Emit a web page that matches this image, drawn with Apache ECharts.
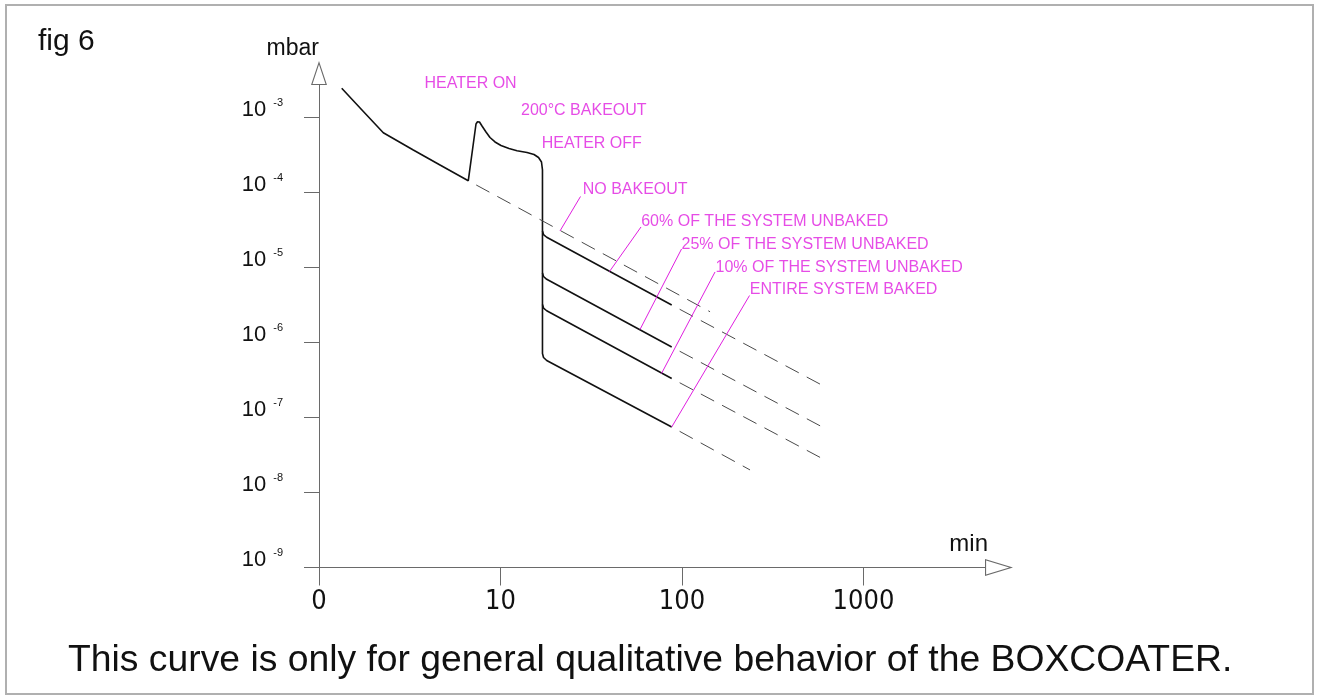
<!DOCTYPE html>
<html>
<head>
<meta charset="utf-8">
<script src="https://cdn.jsdelivr.net/npm/echarts@6/dist/echarts.min.js"></script>
<style>
html,body{margin:0;padding:0;background:#fff;}
#wrap{position:relative;width:1318px;height:695px;}
#chart{width:1318px;height:695px;}
#frame{position:absolute;left:5px;top:4px;width:1309px;height:691px;border:2px solid #b0b0b0;box-sizing:border-box;pointer-events:none;}
</style>
</head>
<body>
<div id="wrap"><div id="chart"></div><div id="frame"></div></div>
<script>
// ---------- axes ----------
const xTickValues = [1, 10, 100, 1000];
const xTickLabels = ['0', '10', '100', '1000'];
const yTickValues = [1e-9, 1e-8, 1e-7, 1e-6, 1e-5, 1e-4, 1e-3];
const yTickExponents = ['-9', '-8', '-7', '-6', '-5', '-4', '-3'];

// ---------- main pump-down / bakeout curve (ends on "entire system baked") ----------
const mainTime = [1.334, 1.740, 2.261, 3.308, 4.642, 6.646, 7.328, 7.468, 7.660, 7.909, 8.320, 8.752, 9.326, 10.06, 11.14, 12.33, 14.00, 15.30, 16.20, 16.82, 17.03, 17.03, 17.26, 17.97, 87.76];
const mainPressure = [2.451e-3, 1.23e-3, 6.27e-4, 3.69e-4, 2.33e-4, 1.437e-4, 8.19e-4, 8.76e-4, 8.71e-4, 7.70e-4, 6.41e-4, 5.41e-4, 4.72e-4, 4.23e-4, 3.86e-4, 3.61e-4, 3.41e-4, 3.21e-4, 2.93e-4, 2.55e-4, 2.00e-4, 7.13e-7, 6.31e-7, 5.75e-7, 7.47e-8];

// ---------- branches after heater off ----------
const branchTime = [17.03, 17.26, 17.97, 87.76];
const branch60Pressure = [3.07e-5, 2.75e-5, 2.53e-5, 3.16e-6];
const branch25Pressure = [8.44e-6, 7.59e-6, 6.96e-6, 8.71e-7];
const branch10Pressure = [3.21e-6, 2.88e-6, 2.65e-6, 3.31e-7];

// ---------- dashed extrapolations ----------
const noBakeoutTime = [6.646, 142.7];
const noBakeoutPressure = [1.437e-4, 2.57e-6];
const extTime = [87.76, 588.6];
const ext60Pressure = [3.16e-6, 2.71e-7];
const ext25Pressure = [8.71e-7, 7.54e-8];
const ext10Pressure = [3.31e-7, 2.86e-8];
const extEntireTime = [87.76, 237.0];
const extEntirePressure = [7.47e-8, 2.0e-8];

// ---------- annotations ----------
const noteText = ['HEATER ON', '200°C BAKEOUT', 'HEATER OFF', 'NO BAKEOUT', '60% OF THE SYSTEM UNBAKED', '25% OF THE SYSTEM UNBAKED', '10% OF THE SYSTEM UNBAKED', 'ENTIRE SYSTEM BAKED'];
const noteTime = [3.789, 12.89, 16.76, 28.19, 59.23, 98.74, 152.0, 234.9];
const notePressure = [2.80e-3, 1.221e-3, 4.53e-4, 1.08e-4, 4.08e-5, 2.0e-5, 1.006e-5, 5.01e-6];
const leaderFromTime = [27.59, 59.44, 99.4, 152.0, 235.5];
const leaderFromPressure = [8.84e-5, 3.47e-5, 1.765e-5, 8.71e-6, 4.23e-6];
const leaderToTime = [21.27, 39.86, 58.69, 77.1, 87.76];
const leaderToPressure = [3.07e-5, 8.84e-6, 1.49e-6, 3.86e-7, 7.47e-8];

const titleText = 'fig 6';
const captionText = 'This curve is only for general qualitative behavior of the BOXCOATER.';

// ---------- styling ----------
const FONT = '"Liberation Sans", Arial, sans-serif';
const NARROW = '"DejaVu Sans Condensed", "Liberation Sans", sans-serif';
const MAGENTA = '#e01fe0';
const AXIS_COLOR = '#6a6a6a';

function pairs(xs, ys) { return xs.map((x, i) => [x, ys[i]]); }
function hollowArrow(w, l, t) {
  const half = w / 2;
  const hyp = Math.sqrt(half * half + l * l);
  const sinA = half / hyp, cosA = l / hyp, tanA = half / l;
  const apexY = t / sinA;
  const baseY = l - t;
  const dx = baseY * tanA - t / cosA;
  return 'path://M' + half + ',0L' + w + ',' + l + 'L0,' + l + 'Z M' + half + ',' + apexY.toFixed(3) +
    'L' + (half - dx).toFixed(3) + ',' + baseY + 'L' + (half + dx).toFixed(3) + ',' + baseY + 'Z';
}
function findIdx(list, v) {
  return list.findIndex(t => Math.abs(Math.log10(t) - Math.log10(v)) < 1e-6);
}

const solid = { color: '#111', width: 1.6 };
const dashed = { color: '#4a4a4a', width: 1, type: [15, 9], dashOffset: 15 };

function lineSeries(data, style) {
  return { type: 'line', data: data, showSymbol: false, symbol: 'none', silent: true, clip: false,
    lineStyle: style, z: 3 };
}

const series = [
  lineSeries(pairs(mainTime, mainPressure), solid),
  lineSeries(pairs(branchTime, branch60Pressure), solid),
  lineSeries(pairs(branchTime, branch25Pressure), solid),
  lineSeries(pairs(branchTime, branch10Pressure), solid),
  lineSeries(pairs(noBakeoutTime, noBakeoutPressure), dashed),
  lineSeries(pairs(extTime, ext60Pressure), dashed),
  lineSeries(pairs(extTime, ext25Pressure), dashed),
  lineSeries(pairs(extTime, ext10Pressure), dashed),
  lineSeries(pairs(extEntireTime, extEntirePressure), dashed)
];
leaderFromTime.forEach((t, i) => {
  series.push(lineSeries([[t, leaderFromPressure[i]], [leaderToTime[i], leaderToPressure[i]]],
    { color: MAGENTA, width: 1 }));
});
series.push({
  type: 'scatter', silent: true, clip: false, symbolSize: 1,
  itemStyle: { color: 'rgba(255,255,255,0)' },
  data: noteText.map((txt, i) => ({ name: txt, value: [noteTime[i], notePressure[i]] })),
  label: { show: true, position: 'right', distance: 0, formatter: '{b}', color: MAGENTA,
    fontFamily: FONT, fontSize: 16 },
  labelLayout: { hideOverlap: false },
  z: 5
});

const chart = echarts.init(document.getElementById('chart'), null, { renderer: 'canvas' });
chart.setOption({
  animation: false,
  backgroundColor: '#fff',
  textStyle: { fontFamily: FONT },
  title: [
    { text: titleText, left: 38, top: 27, padding: 0,
      textStyle: { fontFamily: FONT, fontSize: 30, fontWeight: 'normal', color: '#111' } },
    { text: captionText, left: 68, top: 642, padding: 0,
      textStyle: { fontFamily: FONT, fontSize: 37.3, fontWeight: 'normal', color: '#111' } }
  ],
  grid: { left: 319, right: 333, top: 85, bottom: 127.5, containLabel: false },
  xAxis: {
    type: 'log', logBase: 10, min: 1, max: 4670,
    name: 'min', nameLocation: 'end', nameGap: 3, nameMoveOverlap: false,
    nameTextStyle: { align: 'right', verticalAlign: 'bottom', padding: [0, 0, 11, 0],
      fontFamily: FONT, fontSize: 24, color: '#111' },
    axisLine: { show: true, onZero: false, lineStyle: { color: AXIS_COLOR, width: 1 },
      symbol: ['none', hollowArrow(17, 28, 1.1)], symbolSize: [17, 28], symbolOffset: [0, 14] },
    axisTick: { show: true, inside: false, length: 18, customValues: xTickValues,
      lineStyle: { color: AXIS_COLOR, width: 1 } },
    minorTick: { show: false },
    axisLabel: { show: true, customValues: xTickValues, margin: 21, fontFamily: NARROW, fontSize: 27,
      color: '#111', hideOverlap: false,
      formatter: function (v) { const i = findIdx(xTickValues, v); return i >= 0 ? xTickLabels[i] : ''; } },
    splitLine: { show: false }, minorSplitLine: { show: false }
  },
  yAxis: {
    type: 'log', logBase: 10, min: 1e-9, max: 2.712e-3,
    name: 'mbar', nameLocation: 'end', nameGap: 25, nameMoveOverlap: false,
    nameTextStyle: { align: 'right', verticalAlign: 'bottom', fontFamily: FONT, fontSize: 23, color: '#111' },
    axisLine: { show: true, onZero: false, lineStyle: { color: AXIS_COLOR, width: 1 },
      symbol: ['none', hollowArrow(16, 24, 1.1)], symbolSize: [16, 24], symbolOffset: [0, 12] },
    axisTick: { show: true, inside: false, length: 15, customValues: yTickValues,
      lineStyle: { color: AXIS_COLOR, width: 1 } },
    minorTick: { show: false },
    axisLabel: { show: true, customValues: yTickValues, margin: 36, padding: [0, 0, 18, 0],
      color: '#111', hideOverlap: false,
      formatter: function (v) { const i = findIdx(yTickValues, v); return i >= 0 ? '{b|10}{s|' + yTickExponents[i] + '}' : ''; },
      rich: {
        b: { fontFamily: FONT, fontSize: 22, lineHeight: 22, padding: [3, 0, 0, 0], color: '#111' },
        s: { fontFamily: FONT, fontSize: 11, lineHeight: 11, verticalAlign: 'top', padding: [0, 0, 0, 7], color: '#111' }
      } },
    splitLine: { show: false }, minorSplitLine: { show: false }
  },
  series: series
});
</script>
</body>
</html>
